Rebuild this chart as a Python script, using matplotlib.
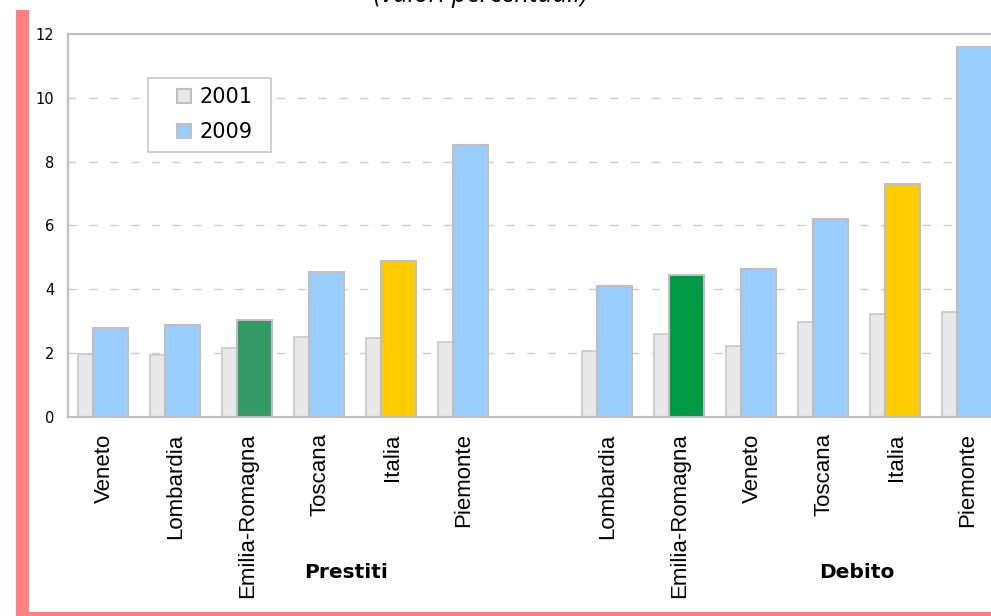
import matplotlib
matplotlib.use("Agg")
import matplotlib.pyplot as plt
from matplotlib.patches import Rectangle, Patch
import numpy as np

# ---- data ----
categories = ["Veneto", "Lombardia", "Emilia-Romagna", "Toscana", "Italia", "Piemonte",
              "",
              "Lombardia", "Emilia-Romagna", "Veneto", "Toscana", "Italia", "Piemonte"]
values_2001 = [1.98, 1.92, 2.16, 2.51, 2.46, 2.33,
               None,
               2.05, 2.58, 2.22, 2.98, 3.22, 3.27]
values_2009 = [2.79, 2.87, 3.02, 4.54, 4.89, 8.52,
               None,
               4.09, 4.44, 4.63, 6.20, 7.29, 11.60]
colors_2009 = ["#99CCFF", "#99CCFF", "#339966", "#99CCFF", "#FFCC00", "#99CCFF",
               "#FFFFFF",
               "#99CCFF", "#009944", "#99CCFF", "#99CCFF", "#FFCC00", "#99CCFF"]
series_names = ["2001", "2009"]
group_labels = ["Prestiti", "Debito"]
yticks = [0, 2, 4, 6, 8, 10, 12]
title = "(valori percentuali)"

W, H = 991, 616
fig = plt.figure(figsize=(W / 100, H / 100), dpi=100)

# axes (right side extends past the figure edge, as in the cropped reference)
left_px, top_px, bottom_px, slot_px = 68, 34, 416.7, 72
n = len(categories)
ax_w_px = n * slot_px
ax_h_px = bottom_px - top_px
ax = fig.add_axes([left_px / W, 1 - bottom_px / H, ax_w_px / W, ax_h_px / H])

x = np.arange(n)
edge = "#BFBFBF"
for i in range(n):
    if values_2001[i] is None:
        continue
    ax.bar(x[i] - 0.5 + 0.14, values_2001[i], width=0.45, align="edge",
           color="#E8E8E8", edgecolor="#C8C8C8", linewidth=1.2, zorder=2)
    ax.bar(x[i] - 0.5 + 0.35, values_2009[i], width=0.49, align="edge",
           color=colors_2009[i], edgecolor=edge, linewidth=1.5, zorder=3)

ax.set_xlim(-0.5, n - 0.5)
ax.set_ylim(0, 12)
ax.set_yticks(yticks)
ax.set_yticklabels([str(t) for t in yticks], fontsize=10.5, family="DejaVu Sans")
ax.set_xticks(x)
ax.set_xticklabels(categories, rotation=90, fontsize=16, family="Liberation Sans",
                   va="top", ha="center")
ax.tick_params(axis="both", length=0)
ax.tick_params(axis="y", pad=10)
ax.tick_params(axis="x", pad=12)

for t in [2, 4, 6, 8, 10]:
    ax.axhline(t, color="#CCCCCC", linewidth=1.0, dashes=(6, 9), zorder=1)

for s in ax.spines.values():
    s.set_color("#C0C0C0")
    s.set_linewidth(1.6)

# legend frame (drawn manually for exact padding)
def ax_frac(px_x, px_y):
    return ((px_x - left_px) / ax_w_px, (bottom_px - px_y) / ax_h_px)

fx0, fy0 = ax_frac(148, 152)
fx1, fy1 = ax_frac(271, 78)
ax.add_patch(Rectangle((fx0, fy0), fx1 - fx0, fy1 - fy0, transform=ax.transAxes,
                       facecolor="white", edgecolor="#C8C8C8", linewidth=1.2, zorder=5))

handles = [Patch(facecolor="#E8E8E8", edgecolor=edge, linewidth=1.5),
           Patch(facecolor="#99CCFF", edgecolor=edge, linewidth=1.5)]
leg = ax.legend(handles, series_names, loc="center left",
                bbox_to_anchor=ax_frac(177, 114.5),
                borderaxespad=0, borderpad=0, frameon=False,
                prop={"family": "DejaVu Sans", "size": 15},
                handlelength=0.65, handleheight=0.65, handletextpad=0.45,
                labelspacing=0.72)
leg.set_zorder(6)

# group labels
fig.text(346 / W, 1 - 578 / H, group_labels[0], ha="center", va="baseline",
         fontsize=14.5, fontweight="bold", family="DejaVu Sans")
fig.text(857 / W, 1 - 578 / H, group_labels[1], ha="center", va="baseline",
         fontsize=14.5, fontweight="bold", family="DejaVu Sans")

# title (cropped at top in the reference)
fig.text(481 / W, 1 - 2.5 / H, title, ha="center", va="baseline",
         fontsize=18.5, style="italic", family="Open Sans", color="#000000")

# red border
fig.add_artist(Rectangle((16 / W, 0), 13 / W, 1 - 10 / H, transform=fig.transFigure,
                         facecolor="#FF8080", edgecolor="none", zorder=10))
fig.add_artist(Rectangle((16 / W, 0), 1 - 16 / W, 4.5 / H, transform=fig.transFigure,
                         facecolor="#FF8080", edgecolor="none", zorder=10))

fig.savefig("out.png", dpi=100)
